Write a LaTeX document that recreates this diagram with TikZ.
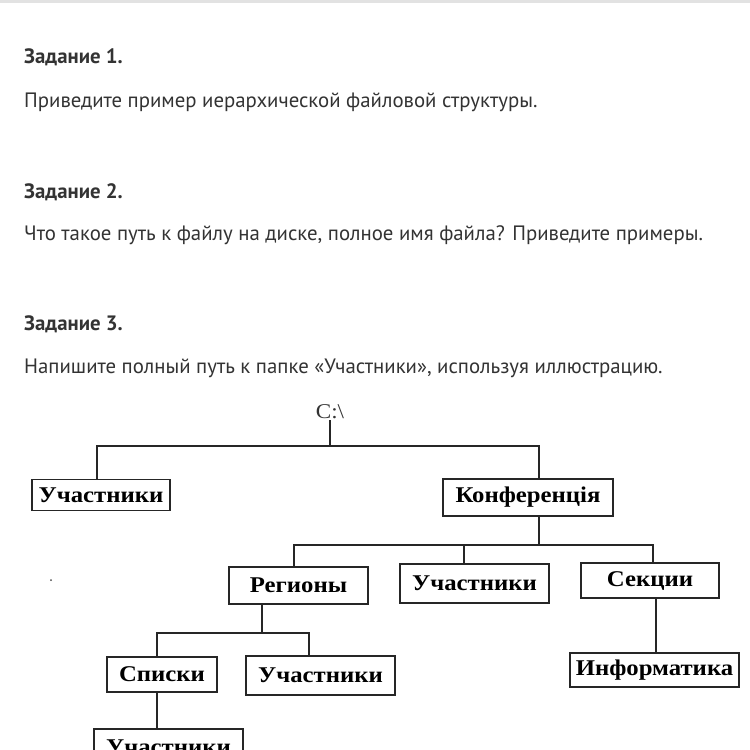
\documentclass[tikz,border=0pt]{standalone}
\usepackage{fontspec}
\setmainfont{PT Sans}
\newfontfamily\dgfont[FakeStretch=1.1]{Liberation Serif}
\definecolor{txt}{HTML}{333333}
\definecolor{ln}{HTML}{262626}
\definecolor{topbar}{HTML}{E2E2E2}
\begin{document}
\begin{tikzpicture}[x=1pt,y=-1pt,
  head/.style={anchor=base west,inner sep=0pt,text=txt,font=\fontsize{20.8}{24}\selectfont\bfseries},
  body/.style={anchor=base west,inner sep=0pt,text=txt,font=\fontsize{20.8}{24}\selectfont},
  folder/.style={draw=ln,line width=1.5pt,inner sep=0pt,text=black,
    font=\dgfont\bfseries\fontsize{22.5}{24}\selectfont},
  conn/.style={draw=ln,line width=1.5pt}]
\clip (0,0) rectangle (750,750);
\fill[white] (0,0) rectangle (750,750);
\fill[topbar] (0,0) rectangle (750,3);

\node[head] (h1) at (24,63) {Задание 1.};
\node[body] (t1) at (24,107) {Приведите пример иерархической файловой структуры.};
\node[head] (h2) at (24,198) {Задание 2.};
\node[body] (t2) at (24,240) {Что такое путь к файлу на диске, полное имя файла? Приведите примеры.};
\node[head] (h3) at (24,330) {Задание 3.};
\node[body] (t3) at (24,373) {Напишите полный путь к папке «Участники», используя иллюстрацию.};

\node[inner sep=1pt,text=txt,font=\dgfont\fontsize{21}{22}\selectfont] (root) at (330,412) {C:\textbackslash};

\node[folder,minimum width=138,minimum height=31] (u1) at (101,495) {Участники};
\node[folder,minimum width=170,minimum height=37] (konf) at (528,497.5) {Конференція};
\node[folder,minimum width=139,minimum height=37] (reg) at (298.5,585.5) {Регионы};
\node[folder,minimum width=149,minimum height=39] (u2) at (474.5,583.5) {Участники};
\node[folder,minimum width=138,minimum height=35] (sek) at (650,580.5) {Секции};
\node[folder,minimum width=110,minimum height=35] (spis) at (162,674.5) {Списки};
\node[folder,minimum width=149,minimum height=39] (u3) at (320.5,675.5) {Участники};
\node[folder,minimum width=169,minimum height=34] (inf) at (654.5,670) {Информатика};
\node[folder,minimum width=149,minimum height=36] (u4) at (168.5,747) {Участники};

\coordinate (b1l) at (97,446);
\coordinate (b1r) at (539,446);
\coordinate (b2a) at (294,545);
\coordinate (b2b) at (464,545);
\coordinate (b2c) at (653,545);
\coordinate (b3a) at (157,633);
\coordinate (b3b) at (309,633);
\coordinate (r1) at (262,633);
\coordinate (s1) at (656,620);

\draw[conn] (root.south) -- (root.south |- b1l);
\draw[conn] (u1.north -| b1l) -- (b1l) -- (b1r) -- (konf.north -| b1r);
\draw[conn] (konf.south -| b1r) -- (b1r |- b2a);
\draw[conn] (reg.north -| b2a) -- (b2a) -- (b2c) -- (sek.north -| b2c);
\draw[conn] (b2b) -- (u2.north -| b2b);
\draw[conn] (reg.south -| r1) -- (r1);
\draw[conn] (spis.north -| b3a) -- (b3a) -- (b3b) -- (u3.north -| b3b);
\draw[conn] (spis.south -| b3a) -- (u4.north -| b3a);
\draw[conn] (sek.south -| s1) -- (inf.north -| s1);

\fill[gray!60!black] (51,580) circle (1);
\end{tikzpicture}
\end{document}
